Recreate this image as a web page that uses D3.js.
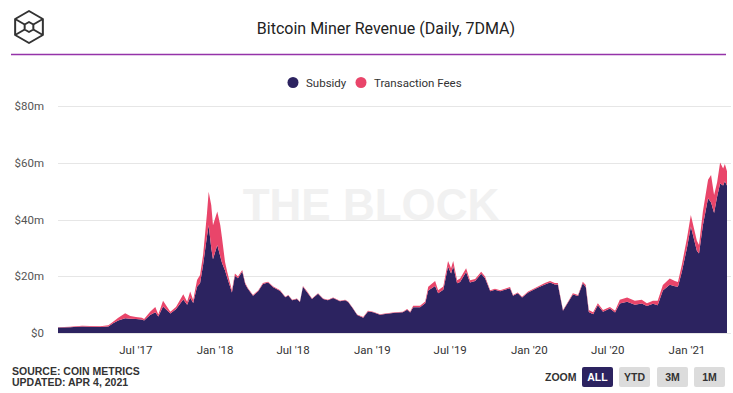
<!DOCTYPE html>
<html>
<head>
<meta charset="utf-8">
<script src="https://cdn.jsdelivr.net/npm/d3@7"></script>
<style>
  body { margin: 0; background: #fff; }
  svg { display: block; }
</style>
</head>
<body>
<svg id="chart" width="733" height="393"></svg>
<script>
// Values, $m per day
const dates = [
  "2017-01-01","2017-01-29","2017-02-26","2017-03-17","2017-04-09","2017-04-28","2017-05-09","2017-05-21",
  "2017-06-06","2017-06-18","2017-07-01","2017-07-15","2017-07-20","2017-08-03","2017-08-15","2017-08-22",
  "2017-09-02","2017-09-19","2017-10-02","2017-10-19","2017-10-28","2017-11-04","2017-11-11","2017-11-20",
  "2017-11-27","2017-12-04","2017-12-13","2017-12-17","2017-12-23","2017-12-27","2018-01-06","2018-01-13",
  "2018-01-17","2018-01-24","2018-01-29","2018-02-09","2018-02-16","2018-02-23","2018-03-05","2018-03-12",
  "2018-03-18","2018-03-30","2018-04-11","2018-04-22","2018-05-04","2018-05-16","2018-06-01","2018-06-13",
  "2018-06-20","2018-06-29","2018-07-10","2018-07-17","2018-07-24","2018-08-03","2018-08-14","2018-08-28",
  "2018-09-09","2018-09-20","2018-10-02","2018-10-18","2018-10-30","2018-11-06","2018-11-17","2018-11-27",
  "2018-12-11","2018-12-22","2019-01-03","2019-01-19","2019-02-04","2019-02-23","2019-03-13","2019-03-23",
  "2019-03-30","2019-04-06","2019-04-22","2019-05-04","2019-05-11","2019-05-27","2019-06-03","2019-06-15",
  "2019-06-26","2019-07-03","2019-07-08","2019-07-17","2019-07-24","2019-08-07","2019-08-16","2019-08-28",
  "2019-09-11","2019-09-20","2019-10-02","2019-10-13","2019-10-25","2019-11-05","2019-11-17","2019-11-24",
  "2019-12-05","2019-12-15","2019-12-29","2020-01-21","2020-02-06","2020-02-18","2020-02-29","2020-03-07",
  "2020-03-19","2020-03-31","2020-04-11","2020-04-23","2020-05-04","2020-05-11","2020-05-18","2020-05-28",
  "2020-06-08","2020-06-20","2020-07-06","2020-07-18","2020-07-29","2020-08-15","2020-09-02","2020-09-18",
  "2020-09-30","2020-10-14","2020-10-25","2020-11-06","2020-11-22","2020-12-04","2020-12-11","2020-12-20",
  "2021-01-01","2021-01-10","2021-01-24","2021-01-29","2021-02-07","2021-02-19","2021-02-26","2021-03-05",
  "2021-03-12","2021-03-19","2021-03-26","2021-03-30","2021-04-04"
];

const subsidy = [
  1.9, 2.0, 2.3, 2.2, 2.1, 2.3, 3.4, 4.4,
  5.2, 5.0, 4.9, 4.8, 4.4, 6.3, 7.3, 5.8,
  9.3, 6.9, 8.4, 11.8, 10.0, 12.5, 10.6, 16.3,
  17.5, 24.0, 34.0, 38.0, 30.0, 26.0, 31.0, 27.0,
  24.7, 22.0, 19.6, 14.3, 20.2, 19.3, 21.7, 17.2,
  15.6, 13.1, 14.7, 17.3, 17.8, 16.1, 14.8, 12.6,
  13.2, 11.5, 12.0, 10.9, 16.3, 14.3, 12.0, 13.8,
  12.0, 11.5, 12.3, 11.2, 11.5, 10.9, 8.6, 6.3,
  5.4, 7.6, 7.3, 6.4, 6.8, 7.1, 7.3, 8.2,
  7.2, 9.1, 9.1, 10.5, 15.0, 16.6, 14.0, 15.2,
  23.4, 21.0, 23.5, 17.5, 18.0, 21.5, 17.8, 18.3,
  20.9, 19.3, 14.7, 15.2, 14.7, 15.2, 15.8, 13.1,
  14.0, 12.5, 14.3, 16.0, 17.1, 17.8, 17.1, 17.1,
  7.8, 10.8, 13.6, 13.0, 17.5, 16.2, 7.4, 6.6,
  9.8, 7.5, 8.6, 7.2, 10.4, 11.0, 10.0, 10.4,
  9.5, 10.3, 9.8, 15.0, 17.0, 16.5, 16.3, 21.5,
  30.0, 37.5, 29.0, 28.0, 38.0, 47.5, 46.0, 42.3,
  48.0, 52.7, 52.0, 53.5, 52.0
];

const fees = [
  0.15, 0.2, 0.25, 0.25, 0.3, 0.4, 0.6, 1.0,
  1.8, 1.0, 0.7, 0.6, 0.5, 1.2, 1.9, 0.7,
  2.1, 0.6, 0.8, 1.9, 1.0, 2.1, 1.0, 2.4,
  2.9, 3.5, 8.0, 11.8, 15.0, 12.0, 11.8, 11.0,
  8.8, 3.0, 2.0, 0.8, 0.8, 0.6, 0.5, 0.4,
  0.3, 0.3, 0.3, 0.3, 0.3, 0.3, 0.3, 0.2,
  0.2, 0.2, 0.2, 0.2, 0.3, 0.3, 0.2, 0.2,
  0.2, 0.2, 0.2, 0.2, 0.2, 0.2, 0.2, 0.2,
  0.2, 0.2, 0.2, 0.2, 0.2, 0.2, 0.2, 0.3,
  0.3, 0.5, 0.5, 0.6, 1.3, 1.7, 1.1, 1.2,
  2.0, 1.8, 1.9, 1.1, 1.2, 1.3, 0.8, 0.7,
  0.7, 0.6, 0.4, 0.4, 0.4, 0.4, 0.4, 0.3,
  0.3, 0.3, 0.3, 0.4, 0.5, 0.5, 0.5, 0.5,
  0.3, 0.3, 0.4, 0.4, 0.6, 0.7, 0.7, 0.7,
  0.7, 0.6, 0.6, 0.6, 1.3, 1.5, 1.4, 1.3,
  1.0, 1.1, 1.6, 1.9, 2.2, 1.8, 1.7, 2.5,
  3.4, 4.1, 3.5, 3.0, 4.8, 6.5, 9.7, 6.3,
  5.0, 7.4, 6.0, 6.1, 5.0
];

const yTicks = [0, 20, 40, 60, 80];
const xTicks = ["2017-07-01","2018-01-01","2018-07-01","2019-01-01","2019-07-01","2020-01-01","2020-07-01","2021-01-01"];
const seriesNames = ["Subsidy", "Transaction Fees"];
const zoomButtons = ["ALL", "YTD", "3M", "1M"];

const colors = { Subsidy: "#2c2360", "Transaction Fees": "#e9456a" };
const uiFont = "Roboto, 'Noto Sans', sans-serif";

const parseDate = d3.timeParse("%Y-%m-%d");
const rows = dates.map((d, i) => ({
  date: parseDate(d),
  Subsidy: subsidy[i],
  "Transaction Fees": fees[i]
}));

const svg = d3.select("#chart");

const plot = { left: 58, right: 727, top: 106, bottom: 333 };

let x = d3.scaleTime()
  .domain(d3.extent(rows, d => d.date))
  .range([plot.left, plot.right]);

let y = d3.scaleLinear()
  .domain([0, 80])
  .range([plot.bottom, plot.top]);

// Header: logo, title, purple rule
const logo = svg.append("g")
  .attr("transform", "translate(29,27)")
  .attr("fill", "none")
  .attr("stroke", "#333")
  .attr("stroke-width", 2)
  .attr("stroke-linejoin", "round");

const hex = r => d3.range(6).map(k => {
  let a = Math.PI / 3 * k - Math.PI / 2;
  return [r * Math.cos(a), r * Math.sin(a)];
});
const outer = hex(16), inner = hex(5);

logo.append("polygon").attr("points", outer.map(p => p.join(",")).join(" "));
logo.append("polygon").attr("points", inner.map(p => p.join(",")).join(" "));
// spokes from inner to outer side corners
[1, 2, 4, 5].forEach(k => {
  logo.append("line")
    .attr("x1", inner[k][0]).attr("y1", inner[k][1])
    .attr("x2", outer[k][0]).attr("y2", outer[k][1]);
});

svg.append("text")
  .attr("x", 386)
  .attr("y", 34)
  .attr("text-anchor", "middle")
  .attr("font-family", uiFont)
  .attr("font-size", "16px")
  .attr("fill", "#222")
  .text("Bitcoin Miner Revenue (Daily, 7DMA)");

svg.append("line")
  .attr("x1", 11).attr("x2", 726)
  .attr("y1", 54.5).attr("y2", 54.5)
  .attr("stroke", "#9533a9")
  .attr("stroke-width", 1.5);

// Legend
const legendX = [293, 361];
const legend = svg.append("g").attr("font-family", uiFont);
seriesNames.forEach((name, i) => {
  legend.append("circle")
    .attr("cx", legendX[i]).attr("cy", 82.5).attr("r", 5.5)
    .attr("fill", colors[name]);
  legend.append("text")
    .attr("x", legendX[i] + 13).attr("y", 87)
    .attr("font-size", "11.5px")
    .attr("fill", "#333")
    .text(name);
});

// Watermark
svg.append("text")
  .attr("x", 371)
  .attr("y", 220)
  .attr("text-anchor", "middle")
  .attr("font-family", "'Liberation Sans', Arial, sans-serif")
  .attr("font-weight", "bold")
  .attr("font-size", "44px")
  .attr("fill", "#f1f1f1")
  .text("THE BLOCK");

// Grid lines and y labels
svg.append("g")
  .selectAll("line")
  .data(yTicks)
  .join("line")
  .attr("x1", plot.left).attr("x2", 731)
  .attr("y1", d => Math.round(y(d)) + 0.5)
  .attr("y2", d => Math.round(y(d)) + 0.5)
  .attr("stroke", "#e6e6e6");

svg.append("g")
  .selectAll("text")
  .data(yTicks)
  .join("text")
  .attr("x", 44)
  .attr("y", d => y(d) + 4)
  .attr("text-anchor", "end")
  .attr("font-family", uiFont)
  .attr("font-size", "11.5px")
  .attr("fill", "#555")
  .text(d => d === 0 ? "$0" : "$" + d + "m");

// Stacked areas
let stacked = d3.stack().keys(seriesNames)(rows);

let area = d3.area()
  .x(d => x(d.data.date))
  .y0(d => y(d[0]))
  .y1(d => y(d[1]));

svg.append("g")
  .selectAll("path")
  .data(stacked)
  .join("path")
  .attr("fill", d => colors[d.key])
  .attr("d", area);

// X axis labels only
const fmt = d3.timeFormat("%b '%y");
svg.append("g")
  .selectAll("text")
  .data(xTicks.map(parseDate))
  .join("text")
  .attr("x", d => x(d))
  .attr("y", 354)
  .attr("text-anchor", "middle")
  .attr("font-family", uiFont)
  .attr("font-size", "11.5px")
  .attr("fill", "#333")
  .text(d => fmt(d));

// Footer: source
const foot = svg.append("g")
  .attr("font-family", "'Liberation Sans', Arial, sans-serif")
  .attr("font-weight", "bold")
  .attr("font-size", "10.5px")
  .attr("fill", "#333");
foot.append("text").attr("x", 12).attr("y", 375).text("SOURCE: COIN METRICS");
foot.append("text").attr("x", 12).attr("y", 386).text("UPDATED: APR 4, 2021");

// Zoom buttons
foot.append("text").attr("x", 545).attr("y", 381).text("ZOOM");
const btnX = [582, 619, 657, 694];
zoomButtons.forEach((label, i) => {
  foot.append("rect")
    .attr("x", btnX[i]).attr("y", 367)
    .attr("width", 31).attr("height", 20)
    .attr("rx", 2)
    .attr("fill", i === 0 ? "#2c2360" : "#dcdcdc");
  foot.append("text")
    .attr("x", btnX[i] + 15.5).attr("y", 381)
    .attr("text-anchor", "middle")
    .attr("fill", i === 0 ? "#fff" : "#333")
    .text(label);
});
</script>
</body>
</html>
